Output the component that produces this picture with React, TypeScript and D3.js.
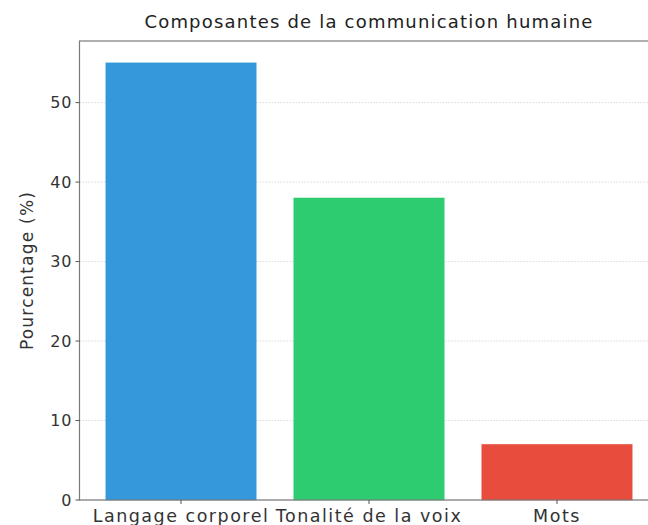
import React from "react";
import * as d3 from "d3";

const categories = ["Langage corporel", "Tonalité de la voix", "Mots"];
const values = [55, 38, 7];
const colors = ["#3498db", "#2ecc71", "#e74c3c"];
const yTicks = [0, 10, 20, 30, 40, 50];
const title = "Composantes de la communication humaine";
const yLabel = "Pourcentage (%)";

const W = 648;
const H = 525;
const FONT = "'DejaVu Sans', 'Open Sans', sans-serif";

export default function App() {
  const left = 79.5;
  const right = 658.5;
  const top = 41;
  const bottom = 500;

  const x = d3
    .scaleBand<string>()
    .domain(categories)
    .range([left, right])
    .paddingInner(0.2)
    .paddingOuter(0.14);
  const y = d3.scaleLinear().domain([0, 57.75]).range([bottom, top]);

  return (
    <svg
      width={W}
      height={H}
      style={{ position: "absolute", left: 0, top: 0, background: "#fff" }}
      fontFamily={FONT}
    >
      <rect x={0} y={0} width={W} height={H} fill="#fff" />
      {/* grid */}
      {yTicks.map((t) => (
        <line
          key={"g" + t}
          x1={left}
          x2={right}
          y1={y(t)}
          y2={y(t)}
          stroke="#d0d0d0"
          strokeWidth={0.8}
          strokeDasharray="1.5,1.5"
        />
      ))}
      {/* bars */}
      {categories.map((c, i) => (
        <rect
          key={c}
          x={x(c)!}
          y={y(values[i])}
          width={x.bandwidth()}
          height={y(0) - y(values[i])}
          fill={colors[i]}
          stroke={colors[i]}
          strokeOpacity={0.6}
          strokeWidth={0.8}
        />
      ))}
      {/* spines */}
      <rect
        x={left}
        y={top}
        width={right - left}
        height={bottom - top}
        fill="none"
        stroke="#7a7a7a"
        strokeWidth={1.2}
      />
      {/* y ticks */}
      {yTicks.map((t) => (
        <g key={"y" + t}>
          <line x1={left - 4} x2={left} y1={y(t)} y2={y(t)} stroke="#555" strokeWidth={1} />
          <text
            x={left - 7}
            y={y(t)}
            textAnchor="end"
            dominantBaseline="central"
            fontSize={16}
            letterSpacing={1}
            fill="#333"
          >
            {t}
          </text>
        </g>
      ))}
      {/* x ticks */}
      {categories.map((c) => {
        const cx = x(c)! + x.bandwidth() / 2;
        return (
          <g key={"x" + c}>
            <line x1={cx} x2={cx} y1={bottom} y2={bottom + 4} stroke="#555" strokeWidth={1} />
            <text
              x={cx}
              y={bottom + 22}
              textAnchor="middle"
              fontSize={17.5}
              letterSpacing={1.5}
              fill="#333"
            >
              {c}
            </text>
          </g>
        );
      })}
      {/* y label */}
      <text
        transform={`translate(${27},${(top + bottom) / 2}) rotate(-90)`}
        textAnchor="middle"
        dominantBaseline="central"
        fontSize={17}
        letterSpacing={1.2}
        fill="#333"
      >
        {yLabel}
      </text>
      {/* title */}
      <text
        x={(left + right) / 2}
        y={28}
        textAnchor="middle"
        fontSize={18}
        letterSpacing={1.2}
        fill="#222"
      >
        {title}
      </text>
    </svg>
  );
}
